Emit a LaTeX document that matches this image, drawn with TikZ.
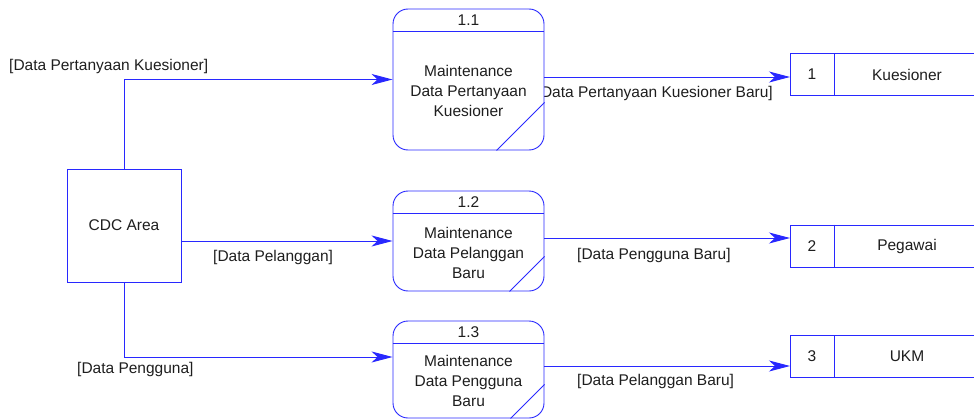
\documentclass[tikz,border=0pt]{standalone}
\usepackage{fontspec}
\setmainfont{Liberation Sans}
\usetikzlibrary{arrows.meta,calc}
\definecolor{dfdblue}{RGB}{40,40,255}
\definecolor{ink}{RGB}{30,30,30}

\begin{document}
\begin{tikzpicture}[x=1pt,y=-1pt,
  every node/.style={font=\fontsize{15.5}{20}\selectfont, text=ink},
  proc/.style={draw=dfdblue, fill=white, rounded corners=15pt, minimum width=151pt, inner sep=0pt, line width=0.9pt},
  store/.style={draw=dfdblue, fill=white, minimum width=190pt, minimum height=42pt, inner sep=0pt, line width=0.9pt},
  entity/.style={draw=dfdblue, fill=white, minimum width=114pt, minimum height=113pt, inner sep=0pt, line width=0.9pt},
  edge/.style={draw=dfdblue, line width=0.9pt},
  flow/.style={draw=dfdblue, line width=0.9pt, -{Stealth[length=21pt,width=11pt,inset=6pt]}},
  lbl/.style={inner sep=0pt, anchor=west},
  ]
\useasboundingbox (0,0) rectangle (974,420);
\clip (0,0) rectangle (974,420);

% flow labels (drawn first so the boxes sit on top of them)
\node[lbl] (l1) at (9,66) {[Data Pertanyaan Kuesioner]};
\node[lbl] (l2) at (213,257) {[Data Pelanggan]};
\node[lbl] (l3) at (77,369) {[Data Pengguna]};
\node[lbl, anchor=east] (l4) at (773,93) {[Data Pertanyaan Kuesioner Baru]};
\node[lbl] (l5) at (577,255) {[Data Pengguna Baru]};
\node[lbl] (l6) at (577,381) {[Data Pelanggan Baru]};

% external entity
\node[entity] (cdc) at (124,225.5) {CDC Area};

% processes
\node[proc, minimum height=141pt] (p1) at (468.5,79.5) {};
\node[proc, minimum height=100pt] (p2) at (468.5,241) {};
\node[proc, minimum height=97pt]  (p3) at (468.5,369.5) {};

\foreach \p/\num/\body/\cut in {p1/1.1/{Maintenance\\Data Pertanyaan\\Kuesioner}/48,
                               p2/1.2/{Maintenance\\Data Pelanggan\\Baru}/35,
                               p3/1.3/{Maintenance\\Data Pengguna\\Baru}/34}{
  \draw[edge] ($(\p.north west)+(0,23)$) coordinate (\p-dl) -- ($(\p.north east)+(0,23)$) coordinate (\p-dr);
  \node (\p-num) at ($(\p.north)!0.5!(\p-dl -| \p.north)$) {\num};
  \node[align=center, inner sep=0pt] (\p-txt) at ($(\p.south)!0.5!(\p-dl -| \p.south)$) {\body};
  \draw[edge] ($(\p.south east)+(-\cut,0)$) -- ($(\p.south east)+(0,-\cut)$);
}

% data stores
\foreach \s/\num/\name/\y in {s1/1/Kuesioner/74.5, s2/2/Pegawai/246, s3/3/UKM/356.5}{
  \node[store, anchor=west] (\s) at (790,\y) {};
  \draw[edge] ($(\s.north west)+(44,0)$) -- ($(\s.south west)+(44,0)$);
  \node (\s-num) at ($(\s.west)+(22,0)$) {\num};
  \node (\s-name) at ($(\s.west)+(117,0)$) {\name};
}

% data flows
\draw[flow] (cdc.north) |- (p1.west);
\draw[flow] (cdc.east |- p2.west) -- (p2.west);
\draw[flow] (cdc.south) |- ($(p3.west)+(0,-12.5)$);
\draw[flow] ($(p1.east)+(0,-2.5)$) coordinate (o1) -- (o1 -| s1.west);
\draw[flow] ($(p2.east)+(0,-3)$) coordinate (o2) -- (o2 -| s2.west);
\draw[flow] ($(p3.east)+(0,-3.5)$) coordinate (o3) -- (o3 -| s3.west);
\end{tikzpicture}
\end{document}
